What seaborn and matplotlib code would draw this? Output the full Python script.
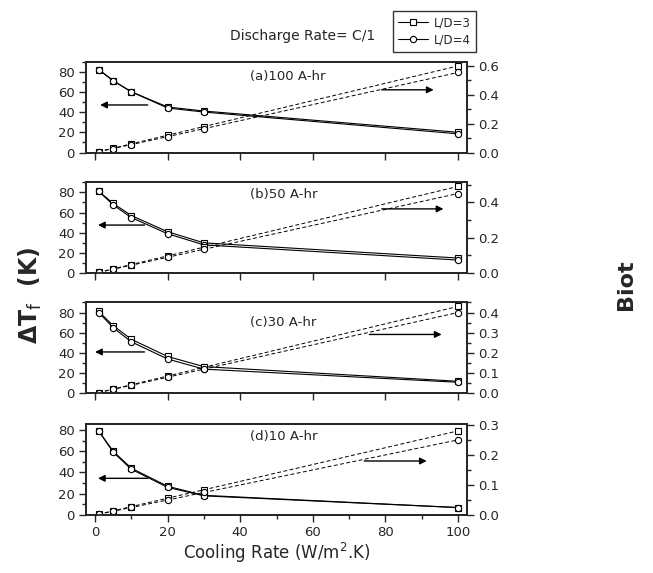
import matplotlib
matplotlib.use("Agg")
import matplotlib.pyplot as plt
import seaborn as sns
from matplotlib.ticker import MultipleLocator, FormatStrFormatter
from matplotlib.lines import Line2D

# Cooling rate h (W/m^2.K)
cooling_rate = [1, 5, 10, 20, 30, 100]
series_labels = ["L/D=3", "L/D=4"]
panel_labels = ["(a)100 A-hr", "(b)50 A-hr", "(c)30 A-hr", "(d)10 A-hr"]

# Temperature rise dT_f (K)
dt_100_ld3 = [82, 71, 60, 45, 41, 20]
dt_100_ld4 = [82, 71, 60, 44, 40, 18.5]
dt_50_ld3 = [81, 69, 57, 41, 30, 15]
dt_50_ld4 = [81, 67.5, 55, 39, 28, 13]
dt_30_ld3 = [81, 67, 53.5, 36.5, 26.5, 12]
dt_30_ld4 = [80, 65, 51, 34, 24, 11]
dt_10_ld3 = [79, 60, 44, 27, 18.5, 7]
dt_10_ld4 = [79, 59, 43, 26, 18, 7]

# Biot number
biot_100_ld3 = [0.006, 0.03, 0.06, 0.12, 0.18, 0.60]
biot_100_ld4 = [0.0055, 0.0275, 0.055, 0.11, 0.165, 0.555]
biot_50_ld3 = [0.005, 0.025, 0.049, 0.098, 0.147, 0.49]
biot_50_ld4 = [0.0045, 0.0225, 0.045, 0.09, 0.135, 0.45]
biot_30_ld3 = [0.0043, 0.0215, 0.043, 0.086, 0.129, 0.43]
biot_30_ld4 = [0.004, 0.02, 0.04, 0.08, 0.12, 0.40]
biot_10_ld3 = [0.0028, 0.014, 0.028, 0.056, 0.084, 0.28]
biot_10_ld4 = [0.0025, 0.0125, 0.025, 0.05, 0.075, 0.25]

dt_sets = [(dt_100_ld3, dt_100_ld4), (dt_50_ld3, dt_50_ld4),
           (dt_30_ld3, dt_30_ld4), (dt_10_ld3, dt_10_ld4)]
biot_sets = [(biot_100_ld3, biot_100_ld4), (biot_50_ld3, biot_50_ld4),
             (biot_30_ld3, biot_30_ld4), (biot_10_ld3, biot_10_ld4)]

# Axis layout per panel
left_top = [90, 90, 90, 85.6]
right_top = [0.631, 0.514, 0.45, 0.303]
right_major = [0.2, 0.2, 0.1, 0.1]
right_minor = [0.1, 0.1, 0.05, 0.05]
label_y = [0.836, 0.864, 0.776, 0.86]
# arrows (start x, end x, y) in left-axis units: pointing to left / right axis
arrows_left = [(14.5, 1.4, 47), (13.6, 0.8, 47.6), (13.6, 0.0, 41), (14.5, 0.8, 34.5)]
arrows_right = [(79, 93.3, 62), (79, 96, 63.6), (75.6, 95.5, 58.3), (74.2, 91.4, 50.8)]

sns.set_style("ticks")
plt.rcParams["font.family"] = ["DejaVu Sans"]
plt.rcParams["axes.linewidth"] = 1.3

W, H = 653, 573
fig = plt.figure(figsize=(W / 100, H / 100), dpi=100)

ax_left_px, ax_right_px = 86, 467
bottoms_px = [152.5, 273.2, 393.4, 515]
height_px = 91

markers = ["s", "o"]
mk = dict(markerfacecolor="white", markeredgecolor="black", markersize=4.5,
          markeredgewidth=0.8)

for i in range(4):
    b = bottoms_px[i]
    ax = fig.add_axes([ax_left_px / W, 1 - b / H,
                       (ax_right_px - ax_left_px) / W, height_px / H])
    ax2 = ax.twinx()

    for j in range(2):
        sns.lineplot(x=cooling_rate, y=dt_sets[i][j], ax=ax, color="black",
                     linewidth=0.8, marker=markers[j], legend=False, **mk)
        sns.lineplot(x=cooling_rate, y=biot_sets[i][j], ax=ax2, color="black",
                     linewidth=0.7, linestyle=(0, (4, 2.5)), marker=markers[j],
                     legend=False, **mk)

    ax.set_xlim(-2.5, 102.5)
    ax.set_ylim(0, left_top[i])
    ax2.set_ylim(0, right_top[i])

    ax.xaxis.set_major_locator(MultipleLocator(20))
    ax.yaxis.set_major_locator(MultipleLocator(20))
    ax.yaxis.set_minor_locator(MultipleLocator(10))
    ax2.yaxis.set_major_locator(MultipleLocator(right_major[i]))
    ax2.yaxis.set_minor_locator(MultipleLocator(right_minor[i]))
    ax2.yaxis.set_major_formatter(FormatStrFormatter("%.1f"))

    for a in (ax, ax2):
        a.tick_params(which="major", direction="out", length=5, width=1.0,
                      labelsize=9.5, pad=3)
        a.tick_params(which="minor", direction="out", length=3, width=1.0)
        for s in a.spines.values():
            s.set_visible(True)
            s.set_linewidth(1.3)
    ax.set_xlabel("")
    ax.set_ylabel("")
    ax2.set_ylabel("")

    if i < 3:
        ax.tick_params(axis="x", labelbottom=False)
    else:
        ax.xaxis.set_minor_locator(MultipleLocator(10))
        ax.tick_params(axis="x", which="both", labelsize=9.5)

    ax.text(0.43, label_y[i], panel_labels[i], transform=ax.transAxes,
            fontsize=9.5, ha="left", va="center")

    x0, x1, y = arrows_left[i]
    ax.annotate("", xy=(x1, y), xytext=(x0, y),
                arrowprops=dict(arrowstyle="-|>", color="black", lw=1.0,
                                mutation_scale=10, shrinkA=0, shrinkB=0))
    x0, x1, y = arrows_right[i]
    ax.annotate("", xy=(x1, y), xytext=(x0, y),
                arrowprops=dict(arrowstyle="-|>", color="black", lw=1.0,
                                mutation_scale=10, shrinkA=0, shrinkB=0))

fig.text(303 / W, 1 - 36 / H, "Discharge Rate= C/1", fontsize=10,
         ha="center", va="center")

fig.text(277 / W, 1 - 553 / H, "Cooling Rate (W/m$^{2}$.K)", fontsize=12,
         ha="center", va="center")
fig.text(30 / W, 1 - 295 / H, r"$\mathbf{\Delta T}_{\mathrm{f}}$  (K)",
         fontsize=17, rotation=90, ha="center", va="center", fontweight="bold")
fig.text(626 / W, 1 - 285 / H, "Biot", fontsize=16, rotation=90,
         ha="center", va="center", fontweight="bold")

handles = [Line2D([], [], color="black", lw=0.8, marker=m, **mk) for m in markers]
leg = fig.legend(handles, series_labels, loc="upper right",
                 bbox_to_anchor=(482 / W, 1 - 5 / H), fontsize=8.5,
                 frameon=True, fancybox=False, edgecolor="black",
                 handlelength=2.5, borderpad=0.45, labelspacing=0.35,
                 handletextpad=0.5)
leg.get_frame().set_linewidth(1.0)

fig.savefig("out.png", dpi=100)
